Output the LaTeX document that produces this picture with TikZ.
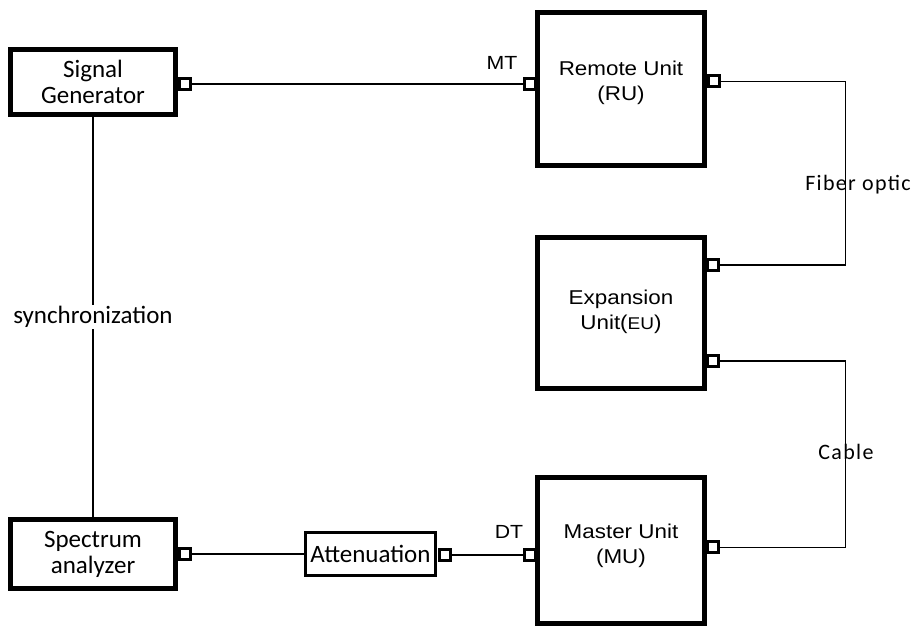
\documentclass[tikz,border=0pt]{standalone}
\usepackage{fontspec}
\setmainfont{Carlito}
\newfontfamily\arialfont{Liberation Sans}[FakeStretch=1.12]
\newfontfamily\spacedfont{Carlito}[LetterSpace=6]
\usetikzlibrary{calc,positioning}

\begin{document}
\begin{tikzpicture}[x=1pt,y=1pt,
  unit/.style={draw, line width=5pt, fill=white, minimum width=167pt,
    inner sep=0pt},
  device/.style={draw, line width=5pt, fill=white, minimum width=165pt,
    inner sep=0pt, align=center, font=\fontsize{25}{26}\selectfont},
  port/.style={draw, line width=3pt, fill=white, minimum size=11pt,
    inner sep=0pt},
  wire/.style={line width=1.8pt},
  unittext/.style={align=center, font=\arialfont\fontsize{20}{25}\selectfont},
  tag/.style={font=\arialfont\fontsize{19}{20}\selectfont},
  medium/.style={font=\spacedfont\fontsize{22}{24}\selectfont}]
  \useasboundingbox (0,0) rectangle (918,628);

  % instruments on the left
  \node[device, minimum height=65pt] (sg) at (93,546) {Signal\\Generator};
  \node[device, minimum height=69pt] (sa) at (93,74) {Spectrum\\analyzer};
  \node[draw, line width=3pt, fill=white, minimum width=130pt,
    minimum height=43pt, inner sep=0pt,
    font=\fontsize{25}{26}\selectfont] (att) at (370.5,74) {Attenuation};

  % units on the right
  \node[unit, minimum height=153pt] (ru) at (621,539) {};
  \node[unit, minimum height=151pt] (eu) at (621,315) {};
  \node[unit, minimum height=146pt] (mu) at (621,77.5) {};
  \node[unittext] (rutxt) at ([yshift=6.5]ru.center) {Remote Unit\\(RU)};
  \node[unittext] (eutxt) at ([yshift=1]eu.center)
    {Expansion\\Unit({\fontsize{17}{20}\selectfont EU})};
  \node[unittext] (mutxt) at ([yshift=5]mu.center) {Master Unit\\(MU)};

  % ports
  \node[port] (sgp) at (185,544) {};
  \node[port] (sap) at (185,74) {};
  \node[port] (attp) at (444.5,73) {};
  \node[port] (rul) at (530,544) {};
  \node[port] (rur) at (714,546.5) {};
  \node[port] (eua) at (713,363) {};
  \node[port] (eub) at (713,267) {};
  \node[port] (mur) at (713,80.5) {};
  \node[port] (mul) at (530,73) {};

  \coordinate (fib) at (845.5,0);

  % connections
  \draw[wire] (sgp.east) -- (rul.west);
  \draw[wire] (sap.east) -- (att.west);
  \draw[wire] (attp.east) -- (mul.west);
  \draw[wire] (sg.south) -- node[fill=white, inner sep=1pt,
    font=\fontsize{25}{26}\selectfont] (sync) {synchronization} (sa.north);
  \draw[wire] (rur.east) -- (rur.east -| fib) -- node[pos=0.564, medium,
    xshift=12.5pt] (fibtxt) {Fiber optic} (eua.east -| fib) -- (eua.east);
  \draw[wire] (eub.east) -- (eub.east -| fib) -- node[pos=0.488, medium,
    xshift=0.5pt] (cabtxt) {Cable} (mur.east -| fib) -- (mur.east);

  % port tags
  \node[tag] (mt) at ([shift={(-28,21)}]rul.center) {MT};
  \node[tag] (dt) at ([shift={(-21,23)}]mul.center) {DT};
\end{tikzpicture}
\end{document}
